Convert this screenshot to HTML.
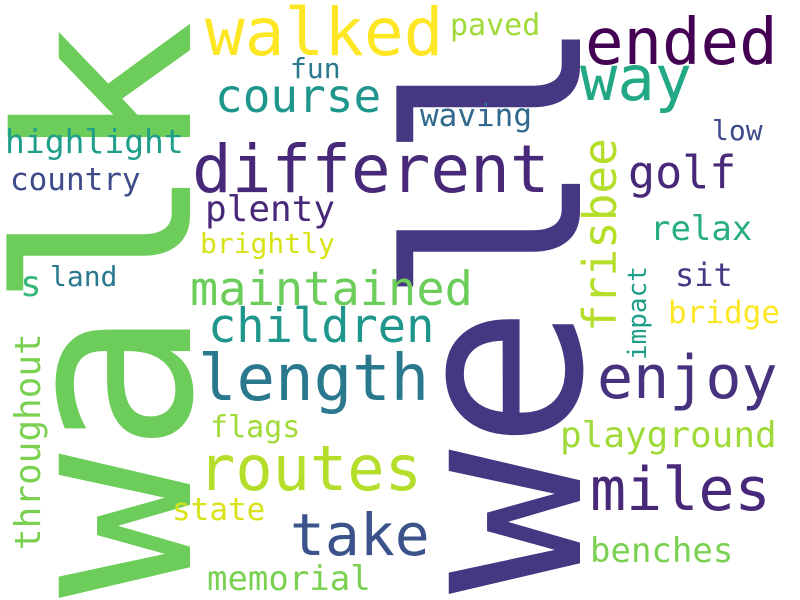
<!DOCTYPE html>
<html><head><meta charset="utf-8"><style>
body{margin:0;background:#fff}
svg{display:block}
text{font-family:"DejaVu Sans Mono","Liberation Mono",monospace}
</style></head><body>
<svg id="cloud" width="800" height="600" viewBox="0 0 800 600" xmlns="http://www.w3.org/2000/svg">
<rect width="800" height="600" fill="#fff"/>
</svg>
<script>
const words = ["walk","well","walked","ended","way","course","fun","paved","waving","highlight","country","different","golf","low","frisbee","plenty","brightly","relax","s","land","sit","maintained","impact","bridge","children","throughout","length","enjoy","flags","playground","routes","miles","state","take","benches","memorial"];
const sizes = [240,240,66,64,62,46,28,30,31,33,31,66,45,28,46,36,28,34,36,28,32,47,26,31,47,36,64,60,30,36,62,60,31,58,34,34];
const layout = {
 walk:[190,598,1,"#6ccd5a"], well:[580,594,1,"#453781"],
 walked:[205,55,0,"#fde725"], ended:[585,64,0,"#440154"], way:[580,100,0,"#22a884"],
 course:[215,112,0,"#1f968b"], fun:[290,78,0,"#2a788e"], paved:[450,35,0,"#a0da39"],
 waving:[420,126,0,"#31688e"], highlight:[5,153,0,"#1f9e89"], country:[10,190,0,"#3e4a89"],
 different:[192,192,0,"#482878"], golf:[628,188,0,"#482878"], low:[712,140,0,"#3e4a89"],
 frisbee:[616,332,1,"#b5de2b"], plenty:[205,221,0,"#482878"], brightly:[200,253,0,"#d8e219"],
 relax:[650,240,0,"#29af7f"], s:[20,296,0,"#35b779"], land:[50,286,0,"#2a788e"],
 sit:[675,286,0,"#443983"], maintained:[190,305,0,"#6ccd5a"], impact:[646,360,1,"#1f9e89"],
 bridge:[668,323,0,"#fde725"], children:[208,342,0,"#1f968b"], throughout:[40,550,1,"#7ad151"],
 length:[198,400,0,"#2a788e"], enjoy:[597,398,0,"#46327e"], flags:[210,437,0,"#a0da39"],
 playground:[560,447,0,"#a0da39"], routes:[198,490,0,"#b5de2b"], miles:[590,510,0,"#482878"],
 state:[172,520,0,"#d8e219"], take:[290,555,0,"#3b528b"], benches:[590,562,0,"#7ad151"],
 memorial:[207,590,0,"#7ad151"]
};
const svg=document.getElementById('cloud');
words.forEach((w,i)=>{
  const L=layout[w];
  const t=document.createElementNS('http://www.w3.org/2000/svg','text');
  
  
  t.setAttribute('font-size', sizes[i]);
  t.setAttribute('fill', L[3]);
  if(L[2]){ t.setAttribute('transform','translate('+L[0]+','+L[1]+') rotate(-90)'); }
  else { t.setAttribute('x',L[0]); t.setAttribute('y',L[1]); }
  t.setAttribute('textLength', (w.length*0.602*sizes[i]).toFixed(1));
  t.textContent=w;
  svg.appendChild(t);
});
</script>
</body></html>
